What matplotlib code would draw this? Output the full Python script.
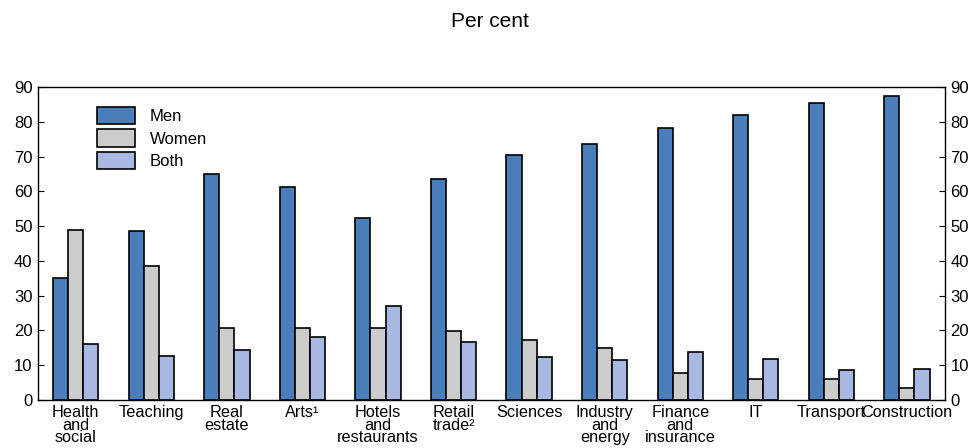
import matplotlib.pyplot as plt
import numpy as np

categories = ["Health\nand\nsocial", "Teaching", "Real\nestate", "Arts¹",
              "Hotels\nand\nrestaurants", "Retail\ntrade²", "Sciences",
              "Industry\nand\nenergy", "Finance\nand\ninsurance", "IT",
              "Transport", "Construction"]
men   = [35.0, 48.7, 65.0, 61.3, 52.3, 63.5, 70.3, 73.6, 78.3, 82.0, 85.3, 87.5]
women = [49.0, 38.5, 20.7, 20.7, 20.7, 19.8, 17.2, 15.0, 7.7, 6.1, 6.1, 3.4]
both  = [16.0, 12.7, 14.3, 18.0, 27.0, 16.8, 12.5, 11.4, 13.9, 11.7, 8.5, 8.8]

plt.rcParams['font.family'] = ['Liberation Sans', 'DejaVu Sans']

fig = plt.figure(figsize=(9.8, 4.48), dpi=100)
ax = fig.add_axes([0.0388, 0.107, 0.9252, 0.699])

x = np.arange(len(categories))
w = 0.2
kw = dict(width=w, edgecolor='black', linewidth=1.2)
ax.bar(x - w, men, color='#4a7ebb', label='Men', **kw)
ax.bar(x, women, color='#cccccc', label='Women', **kw)
ax.bar(x + w, both, color='#a8b8e2', label='Both', **kw)

ax.set_xlim(-0.5, len(categories) - 0.5)
ax.set_ylim(0, 90)
ax.set_yticks(np.arange(0, 91, 10))
ax.tick_params(axis='y', direction='in', right=True, labelright=True,
               labelsize=12, length=4, pad=4)
ax.set_xticks(x)
ax.set_xticklabels(categories, fontsize=11.7, linespacing=0.8)
ax.tick_params(axis='x', length=0, pad=3.5)
for s in ax.spines.values():
    s.set_linewidth(1.0)

ax.legend(loc='upper left', bbox_to_anchor=(0.048, 0.985), frameon=False,
          fontsize=12, handlelength=2.3, handleheight=1.25, labelspacing=0.3,
          handletextpad=0.9)

fig.text(0.5, 0.953, 'Per cent', ha='center', va='center', fontsize=15)

fig.savefig('out.png', dpi=100)
